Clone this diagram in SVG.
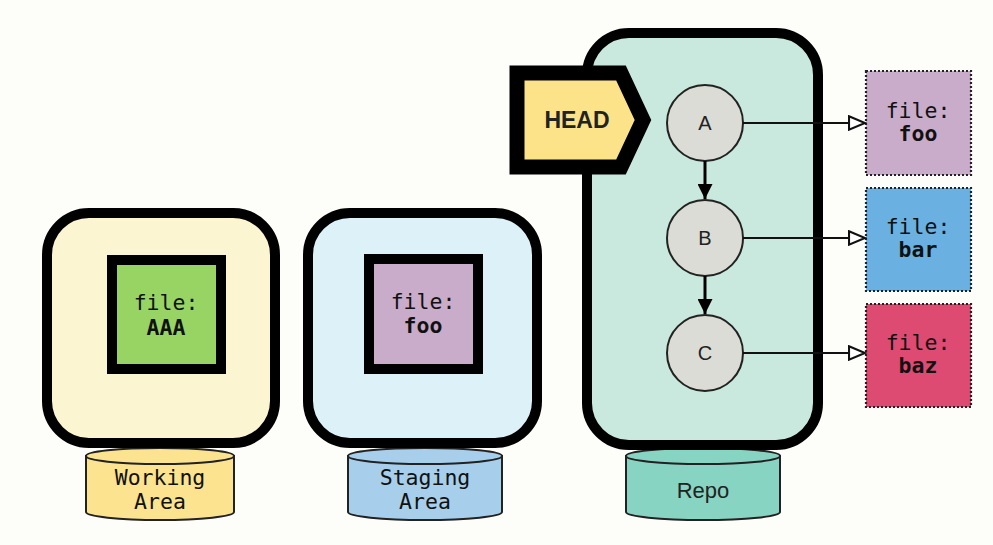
<svg xmlns="http://www.w3.org/2000/svg" width="993" height="545" viewBox="0 0 993 545">
<defs>
<style>
.box{stroke:#000;stroke-width:10}
.file{stroke:#000;stroke-width:10}
.mono{font-family:"DejaVu Sans Mono","Liberation Mono",monospace;font-size:21.5px;fill:#111;text-anchor:middle}
.b{font-weight:bold}
.cyl{stroke:#222;stroke-width:2}
.commit{fill:#dcdcd6;stroke:#222;stroke-width:2}
.sans{font-family:"Liberation Sans",Arial,sans-serif;fill:#222;text-anchor:middle}
.ptr{stroke:#111;stroke-width:2;fill:none}
.blob{stroke:#222;stroke-width:2.2;stroke-dasharray:2 2}
</style>
<marker id="solid" viewBox="0 0 10 10" refX="10" refY="5" markerWidth="5" markerHeight="5" orient="auto" markerUnits="strokeWidth"><path d="M0,0 L10,5 L0,10 z" fill="#000"/></marker>
<marker id="hollow" viewBox="0 0 14 12" refX="13" refY="6" markerWidth="9.5" markerHeight="8" orient="auto" markerUnits="strokeWidth"><path d="M1,1 L13,6 L1,11 z" fill="#fff" stroke="#111" stroke-width="1.6"/></marker>
</defs>
<rect width="993" height="545" fill="#fdfdf9"/>

<g id="working-area">
<path class="cyl" d="M86,456 L86,512 A74,8 0 0 0 234,512 L234,456 Z" fill="#fce38f"/>
<ellipse class="cyl" cx="160" cy="456" rx="74" ry="8" fill="#fce38f"/>
<rect class="box" x="47" y="213" width="228" height="230" rx="42" fill="#fbf5d2"/>
<rect class="file" x="112" y="260" width="109" height="109" fill="#97d463"/>
<text class="mono" x="166" y="310">file:</text>
<text class="mono b" x="166" y="335">AAA</text>
<text class="mono" x="160" y="485">Working</text>
<text class="mono" x="160" y="509">Area</text>
</g>

<g id="staging-area">
<path class="cyl" d="M348,456 L348,512 A77,8 0 0 0 502,512 L502,456 Z" fill="#a7cfec"/>
<ellipse class="cyl" cx="425" cy="456" rx="77" ry="8" fill="#a7cfec"/>
<rect class="box" x="308" y="213" width="229" height="230" rx="42" fill="#dcf1f8"/>
<rect class="file" x="369" y="259" width="109" height="110" fill="#c8acc9"/>
<text class="mono" x="423" y="309">file:</text>
<text class="mono b" x="423" y="333">foo</text>
<text class="mono" x="425" y="485">Staging</text>
<text class="mono" x="425" y="509">Area</text>
</g>

<g id="repo">
<path class="cyl" d="M626,456 L626,512 A77,8 0 0 0 780,512 L780,456 Z" fill="#87d4c2"/>
<ellipse class="cyl" cx="703" cy="456" rx="77" ry="8" fill="#87d4c2"/>
<rect class="box" x="587" y="33" width="231" height="412" rx="42" fill="#c9e9de"/>
<text class="sans" x="703" y="498" font-size="22">Repo</text>
</g>

<g id="head">
<path d="M517,73 L621,73 L643,120 L621,167 L517,167 Z" fill="#fce38a" stroke="#000" stroke-width="15" stroke-linejoin="miter"/>
<text class="sans b" x="577" y="128" font-size="23" fill="#111">HEAD</text>
</g>

<g id="commit-A">
<circle class="commit" cx="705" cy="123" r="38"/>
<text class="sans" x="705" y="130" font-size="20">A</text>
</g>
<g id="commit-B">
<circle class="commit" cx="705" cy="238" r="38"/>
<text class="sans" x="705" y="245" font-size="20">B</text>
</g>
<g id="commit-C">
<circle class="commit" cx="705" cy="353" r="38"/>
<text class="sans" x="705" y="360" font-size="20">C</text>
</g>

<g id="blob-foo">
<rect class="blob" x="866" y="71" width="105" height="104" fill="#c8acc9"/>
<text class="mono" x="918" y="118">file:</text>
<text class="mono b" x="918" y="141">foo</text>
</g>
<g id="blob-bar">
<rect class="blob" x="866" y="188" width="105" height="103" fill="#6ab1e2"/>
<text class="mono" x="918" y="234">file:</text>
<text class="mono b" x="918" y="257">bar</text>
</g>
<g id="blob-baz">
<rect class="blob" x="866" y="304" width="105" height="103" fill="#dd4b72"/>
<text class="mono" x="918" y="350">file:</text>
<text class="mono b" x="918" y="373">baz</text>
</g>

<g id="connectors">
<line x1="705" y1="161" x2="705" y2="199" stroke="#000" stroke-width="3" marker-end="url(#solid)"/>
<line x1="705" y1="276" x2="705" y2="314" stroke="#000" stroke-width="3" marker-end="url(#solid)"/>
<line class="ptr" x1="743" y1="123" x2="865" y2="123" marker-end="url(#hollow)"/>
<line class="ptr" x1="743" y1="238" x2="865" y2="238" marker-end="url(#hollow)"/>
<line class="ptr" x1="743" y1="353" x2="865" y2="353" marker-end="url(#hollow)"/>
</g>
</svg>
